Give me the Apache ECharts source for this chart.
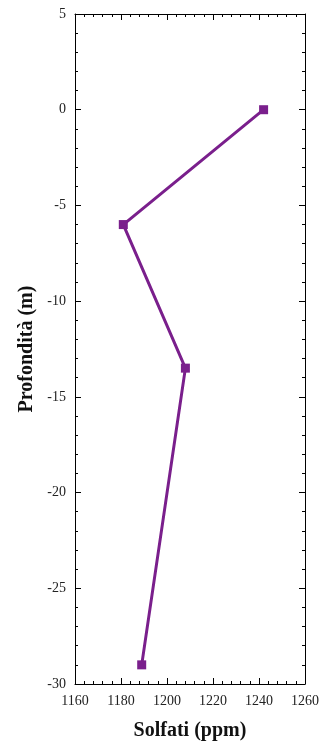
<!DOCTYPE html>
<html>
<head>
<meta charset="utf-8">
<script src="https://cdn.jsdelivr.net/npm/echarts@6/dist/echarts.min.js"></script>
<style>
  html, body { margin: 0; padding: 0; background: #fff; }
  #chart { width: 323px; height: 746px; }
</style>
</head>
<body>
<div id="chart"></div>
<script>
// Sulfate concentration (ppm) measured at each depth (m)
const depths = [0, -6, -13.5, -29];
const solfati = [1242, 1181, 1208, 1189];

const xTitle = 'Solfati (ppm)';
const yTitle = 'Profondità (m)';

const seriesColor = '#7a1f8c';
const fontFamily = '"Liberation Serif", "DejaVu Serif", serif';

const points = depths.map((d, i) => [solfati[i], d]);

const axisLine = { show: true, onZero: false, lineStyle: { color: '#000', width: 1 } };
const majorTick = { show: true, inside: true, length: 6, lineStyle: { color: '#000', width: 1 } };
const minorTick = { show: true, splitNumber: 5, length: 3, lineStyle: { color: '#000', width: 1 } };
const plain = v => String(v);

const xBase = { type: 'value', min: 1160, max: 1260, interval: 20 };
const yBase = { type: 'value', min: -30, max: 5, interval: 5 };

const chart = echarts.init(document.getElementById('chart'), null, { renderer: 'canvas' });
chart.setOption({
  backgroundColor: '#fff',
  animation: false,
  grid: { left: 75, right: 18, top: 14, bottom: 62, containLabel: false },
  xAxis: [
    Object.assign({}, xBase, {
      position: 'bottom',
      name: xTitle,
      nameLocation: 'middle',
      nameGap: 37,
      nameTextStyle: { fontFamily, fontSize: 20, fontWeight: 'bold', color: '#111' },
      axisLine, axisTick: majorTick, minorTick,
      axisLabel: { fontFamily, fontSize: 14, color: '#222', margin: 10, formatter: plain },
      splitLine: { show: false }
    }),
    Object.assign({}, xBase, {
      position: 'top',
      axisLine, axisTick: majorTick, minorTick,
      axisLabel: { show: false },
      splitLine: { show: false }
    })
  ],
  yAxis: [
    Object.assign({}, yBase, {
      position: 'left',
      name: yTitle,
      nameLocation: 'middle',
      nameGap: 32,
      nameRotate: 90,
      nameTextStyle: { fontFamily, fontSize: 20, fontWeight: 'bold', color: '#111' },
      axisLine, axisTick: majorTick, minorTick,
      axisLabel: { fontFamily, fontSize: 14, color: '#222', margin: 9, formatter: plain },
      splitLine: { show: false }
    }),
    Object.assign({}, yBase, {
      position: 'right',
      axisLine, axisTick: majorTick, minorTick,
      axisLabel: { show: false },
      splitLine: { show: false }
    })
  ],
  series: [{
    type: 'line',
    xAxisIndex: 0,
    yAxisIndex: 0,
    data: points,
    symbol: 'rect',
    symbolSize: 9,
    lineStyle: { color: seriesColor, width: 3 },
    itemStyle: { color: seriesColor }
  }]
});
</script>
</body>
</html>
